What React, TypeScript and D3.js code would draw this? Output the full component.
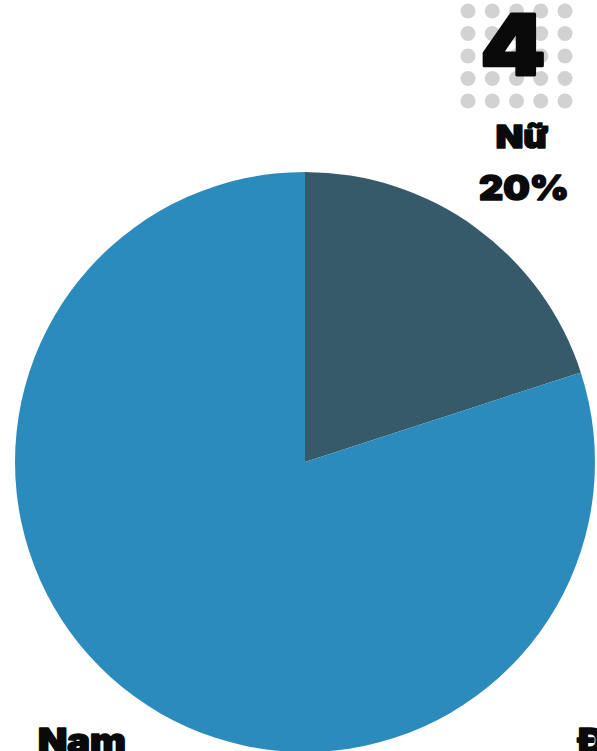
import React from "react";
import * as d3 from "d3";

const categories = ["Nữ", "Nam"];
const values = [20, 80];
const colors = ["#365a6a", "#2c8bbd"];
const bigNumber = "4";
const dotRows = [0, 1, 2, 3, 4];
const dotCols = [0, 1, 2, 3, 4];

function Heavy({ x, y, size, sx, anchor, sw, children }: any) {
  return (
    <g transform={`translate(${x},${y}) scale(${sx},1)`}>
      <text
        x={0}
        y={0}
        textAnchor={anchor}
        fontFamily="Inter, 'DejaVu Sans', sans-serif"
        fontWeight={900}
        fontSize={size}
        fill="#0a0a0a"
        stroke="#0a0a0a"
        strokeWidth={sw}
        strokeLinejoin="round"
      >
        {children}
      </text>
    </g>
  );
}

export default function App() {
  const W = 597, H = 751;
  const cx = 305, cy = 462, r = 290;
  const pie = d3.pie<number>().sort(null).value((d) => d);
  const arcs = pie(values);
  const arc = d3.arc<d3.PieArcDatum<number>>().innerRadius(0).outerRadius(r);
  const dx = d3.scaleLinear().domain([0, 4]).range([468, 565]);
  const dy = d3.scaleLinear().domain([0, 4]).range([11, 101]);
  return (
    <svg width={W} height={H} style={{ position: "absolute", left: 0, top: 0, background: "#fff" }}>
      <g transform={`translate(${cx},${cy})`}>
        {arcs.map((a, i) => (
          <path key={i} d={arc(a) || ""} fill={colors[i]} />
        ))}
      </g>
      {dotRows.map((rr) =>
        dotCols.map((cc) => (
          <circle key={`${rr}-${cc}`} cx={dx(cc)} cy={dy(rr)} r={7.5} fill="#d2d2d2" />
        ))
      )}
      <Heavy x={513} y={75} size={84} sx={1.1} anchor="middle" sw={3}>
        {bigNumber}
      </Heavy>
      <Heavy x={522} y={148} size={32} sx={1.12} anchor="middle" sw={1.6}>
        {categories[0]}
      </Heavy>
      <Heavy x={524} y={200} size={34} sx={1.1} anchor="middle" sw={1.6}>
        {values[0] + "%"}
      </Heavy>
      <Heavy x={82} y={753} size={34} sx={1.12} anchor="middle" sw={1.6}>
        {categories[1]}
      </Heavy>
      <Heavy x={578} y={753} size={34} sx={1.1} anchor="start" sw={1.6}>
        Đ
      </Heavy>
    </svg>
  );
}
